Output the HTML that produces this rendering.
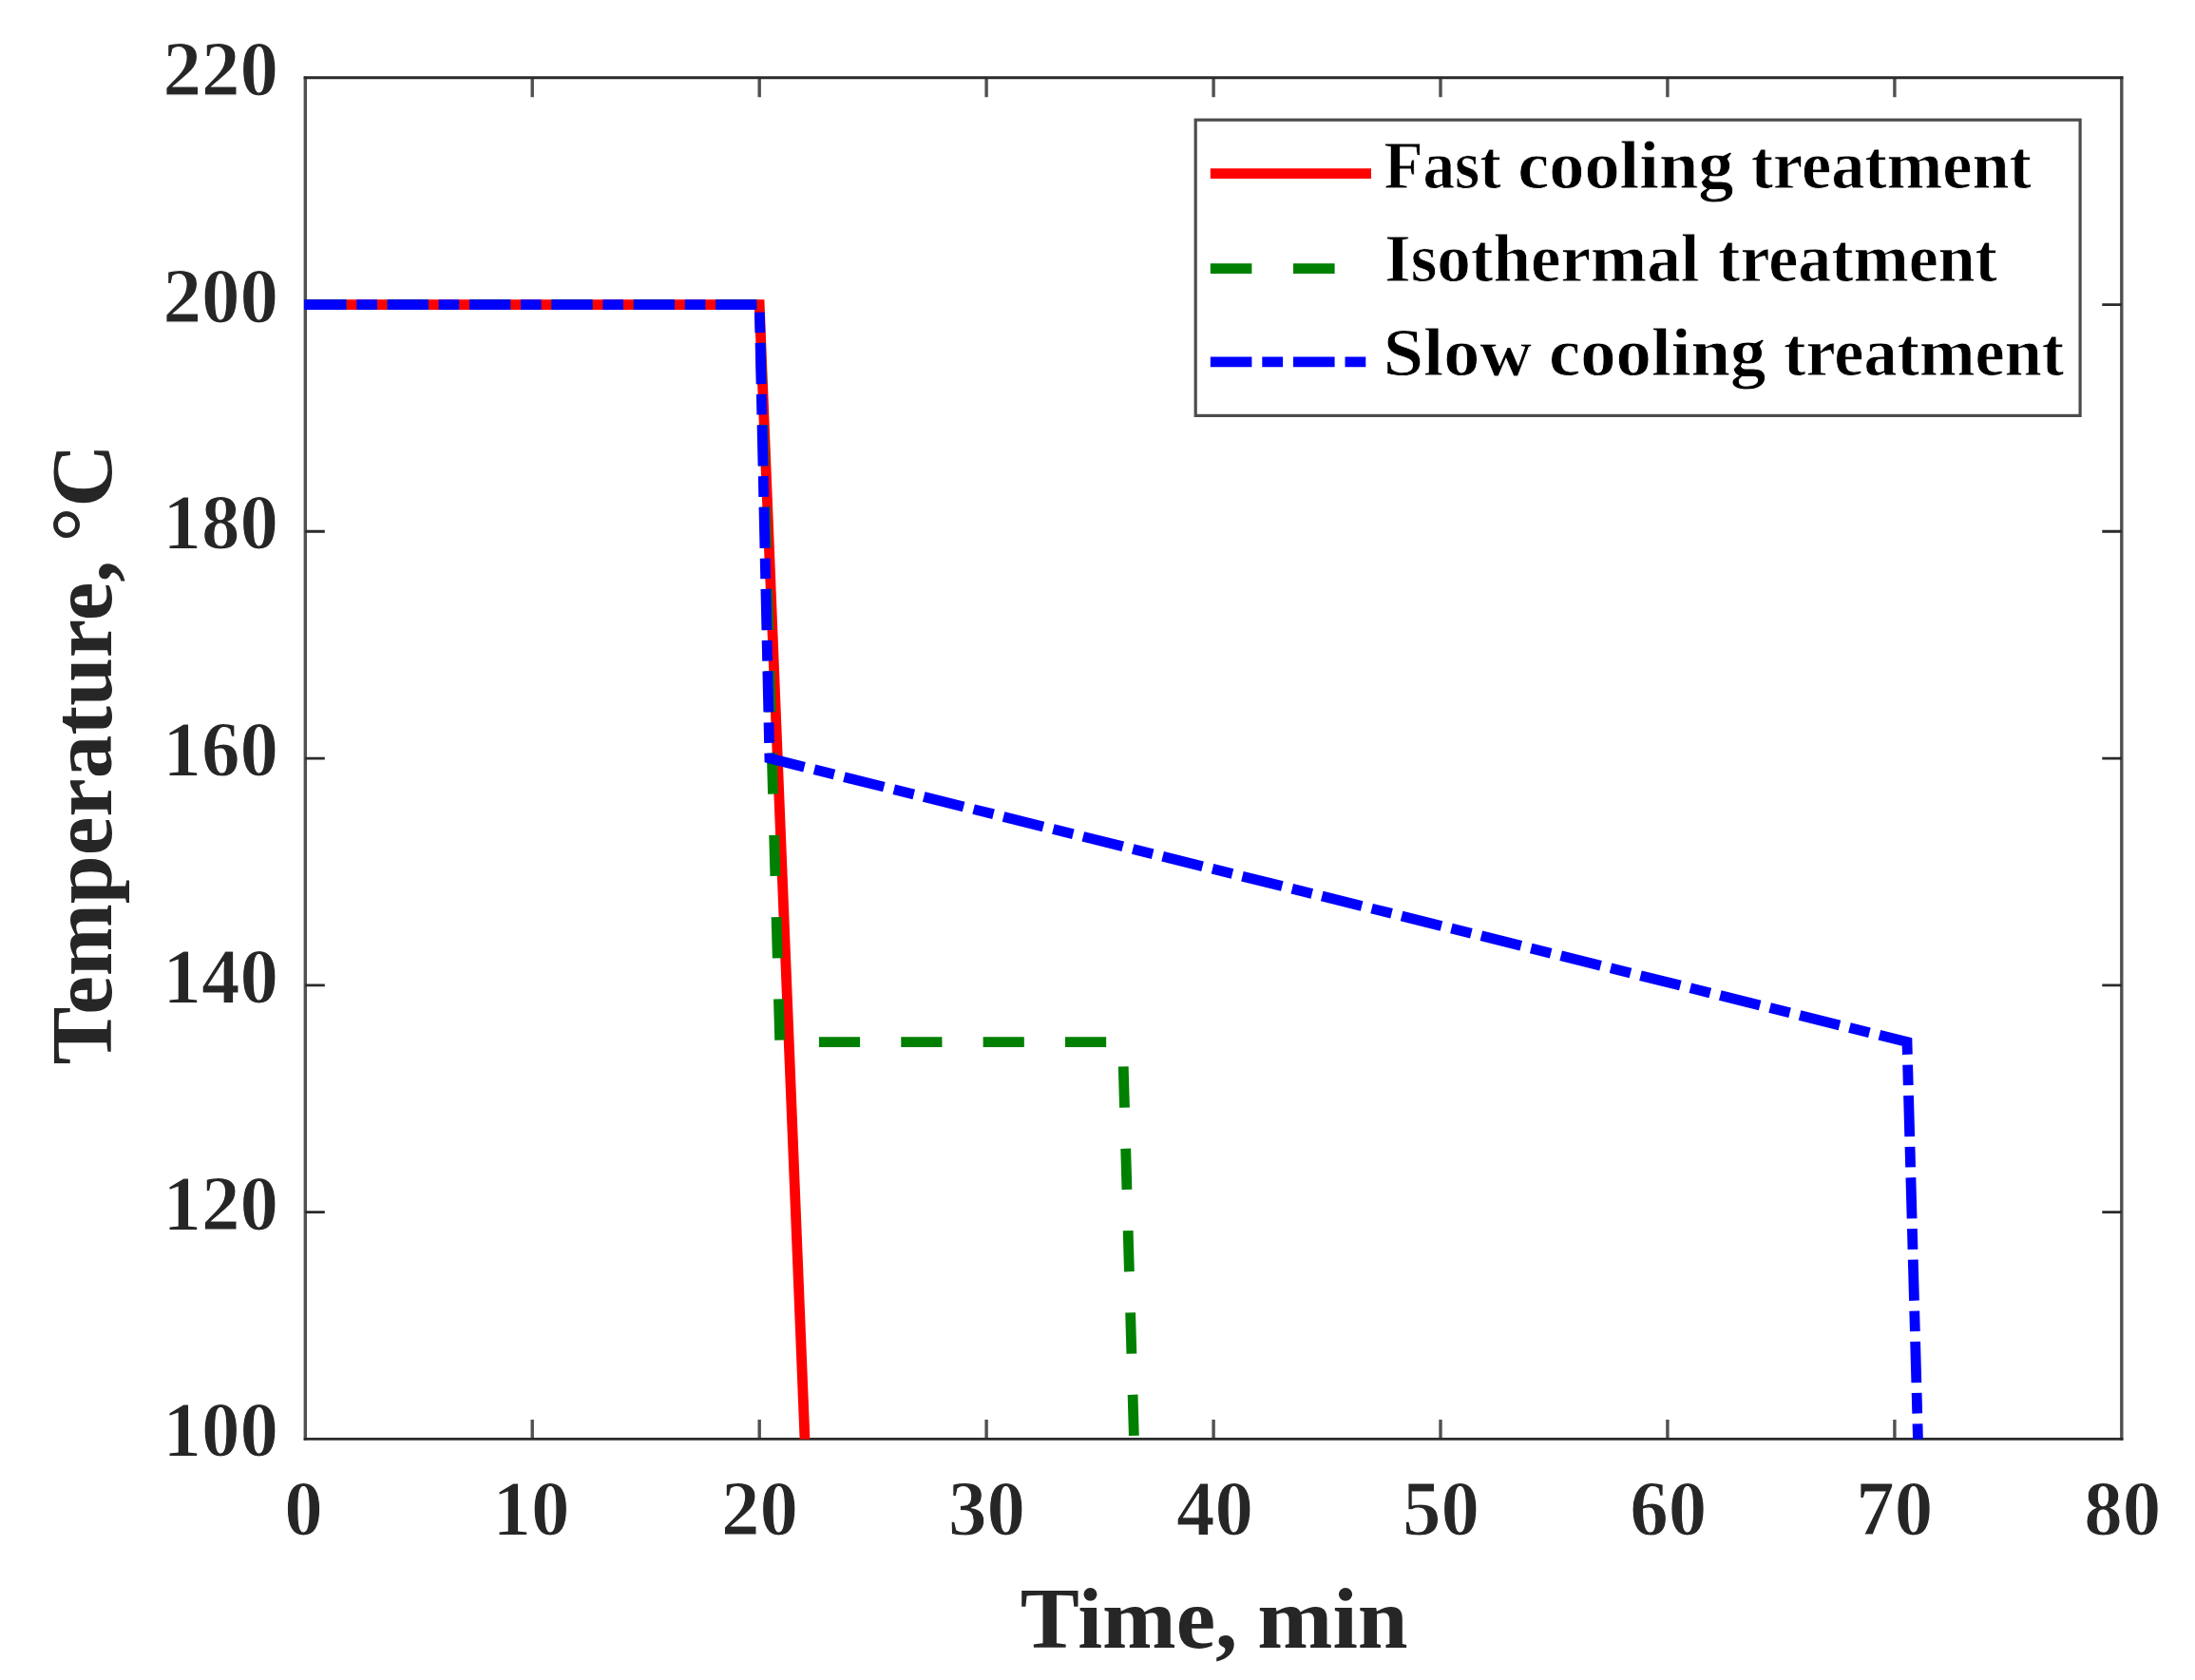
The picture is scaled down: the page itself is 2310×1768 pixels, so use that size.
<!DOCTYPE html>
<html lang="en">
<head>
<meta charset="utf-8">
<title>Thermal treatments: temperature vs time</title>
<style>
html,body{margin:0;padding:0;background:#fff;}
body{width:2310px;height:1768px;overflow:hidden;}
svg{display:block;font-family:"Liberation Serif","DejaVu Serif",serif;font-weight:bold;}
.tk{font-size:81px;font-weight:bold;fill:#262626;stroke:#fff;stroke-width:1.0px;paint-order:fill stroke;}
.lb{font-size:90px;fill:#262626;}
.lg{font-size:71px;fill:#000;stroke:#fff;stroke-width:0.8px;}
</style>
</head>
<body>
<svg width="2310" height="1768" viewBox="0 0 2310 1768">
<rect x="0" y="0" width="2310" height="1768" fill="#ffffff"/>
<defs><clipPath id="ax"><rect x="319.9" y="81.8" width="1912.9" height="1432.6"/></clipPath></defs>

<g fill="none">
<path d="M560.2 1514.4v-20.5M560.2 81.8v20.5M799.2 1514.4v-20.5M799.2 81.8v20.5M1038.1 1514.4v-20.5M1038.1 81.8v20.5M1277.1 1514.4v-20.5M1277.1 81.8v20.5M1516.0 1514.4v-20.5M1516.0 81.8v20.5M1754.9 1514.4v-20.5M1754.9 81.8v20.5M1993.9 1514.4v-20.5M1993.9 81.8v20.5M321.3 80.4V1515.8M2232.8 80.4V1515.8" stroke="#505050" stroke-width="3.4"/>
<path d="M321.3 1275.6h20.5M2232.8 1275.6h-20.5M321.3 1036.9h20.5M2232.8 1036.9h-20.5M321.3 798.1h20.5M2232.8 798.1h-20.5M321.3 559.3h20.5M2232.8 559.3h-20.5M321.3 320.6h20.5M2232.8 320.6h-20.5M319.7 81.8H2234.4M319.7 1514.4H2234.4" stroke="#2a2a2a" stroke-width="2.9"/>
</g>
<g clip-path="url(#ax)" fill="none" stroke-width="10.8" stroke-linejoin="miter" stroke-linecap="butt">
<polyline points="321.3,320.6 799.2,320.6 882.8,2409.8" stroke="#ff0000"/>
<polyline points="321.3,320.6 799.2,320.6 820.7,1096.6 1181.5,1096.6 1219.0,2409.8" stroke="#008000" stroke-dasharray="43.18 43.18"/>
<polyline points="321.3,320.6 799.2,320.6 809.9,798.1 2007.0,1096.6 2043.0,2409.8" stroke="#0000ff" stroke-dasharray="43.18 10.8 21.59 10.8"/>
<path d="M319.7 320.6H321.5" stroke="#0000ff"/>
</g>
<g class="tk">
<text transform="translate(299.2 1615) scale(1 1.03)">0</text>
<text transform="translate(518.6 1615) scale(1 1.03)">10</text>
<text transform="translate(759.1 1615) scale(1 1.03)">20</text>
<text transform="translate(998.0 1615) scale(1 1.03)">30</text>
<text transform="translate(1238.0 1615) scale(1 1.03)">40</text>
<text transform="translate(1475.9 1615) scale(1 1.03)">50</text>
<text transform="translate(1715.3 1615) scale(1 1.03)">60</text>
<text transform="translate(1953.3 1615) scale(1 1.03)">70</text>
<text transform="translate(2193.2 1615) scale(1 1.03)">80</text>
<text transform="translate(171.6 1532.4) scale(1 1.03)">100</text>
<text transform="translate(171.6 1293.6) scale(1 1.03)">120</text>
<text transform="translate(171.6 1054.9) scale(1 1.03)">140</text>
<text transform="translate(171.6 816.1) scale(1 1.03)">160</text>
<text transform="translate(171.6 577.3) scale(1 1.03)">180</text>
<text transform="translate(171.6 338.6) scale(1 1.03)">200</text>
<text transform="translate(171.6 99.8) scale(1 1.03)">220</text>
</g>
<text class="lb" y="1734" lengthAdjust="spacingAndGlyphs"><tspan x="1073.8" textLength="228.5" lengthAdjust="spacingAndGlyphs">Time,</tspan> <tspan x="1323.3" textLength="158.4" lengthAdjust="spacingAndGlyphs">min</tspan></text>
<text class="lb" transform="translate(116.7 1119.4) rotate(-90)" y="0"><tspan x="-1.0" textLength="530.5" lengthAdjust="spacingAndGlyphs">Temperature,</tspan> <tspan x="548.8" textLength="103.6" lengthAdjust="spacingAndGlyphs">°C</tspan></text>
<rect x="1258.2" y="126.2" width="930.9" height="311.2" fill="#fff" stroke="#4c4c4c" stroke-width="3.2"/>
<g fill="none" stroke-width="10.8">
<path d="M1273.8 182.7H1443" stroke="#ff0000"/>
<path d="M1273.8 282.6H1443" stroke="#008000" stroke-dasharray="43.6 43.6"/>
<path d="M1273.8 380.8H1443" stroke="#0000ff" stroke-dasharray="43.6 10.9 21.8 10.9"/>
</g>
<g class="lg">
<text y="198.4"><tspan x="1456.4" textLength="123.2" lengthAdjust="spacingAndGlyphs">Fast</tspan> <tspan x="1597.2" textLength="227.3" lengthAdjust="spacingAndGlyphs">cooling</tspan> <tspan x="1842.7" textLength="295.3" lengthAdjust="spacingAndGlyphs">treatment</tspan></text>
<text y="296.2"><tspan x="1457.0" textLength="331.4" lengthAdjust="spacingAndGlyphs">Isothermal</tspan> <tspan x="1808.1" textLength="293.8" lengthAdjust="spacingAndGlyphs">treatment</tspan></text>
<text y="395.0"><tspan x="1455.8" textLength="156.5" lengthAdjust="spacingAndGlyphs">Slow</tspan> <tspan x="1630.1" textLength="228.2" lengthAdjust="spacingAndGlyphs">cooling</tspan> <tspan x="1877.0" textLength="295.1" lengthAdjust="spacingAndGlyphs">treatment</tspan></text>
</g>
</svg>
</body>
</html>
